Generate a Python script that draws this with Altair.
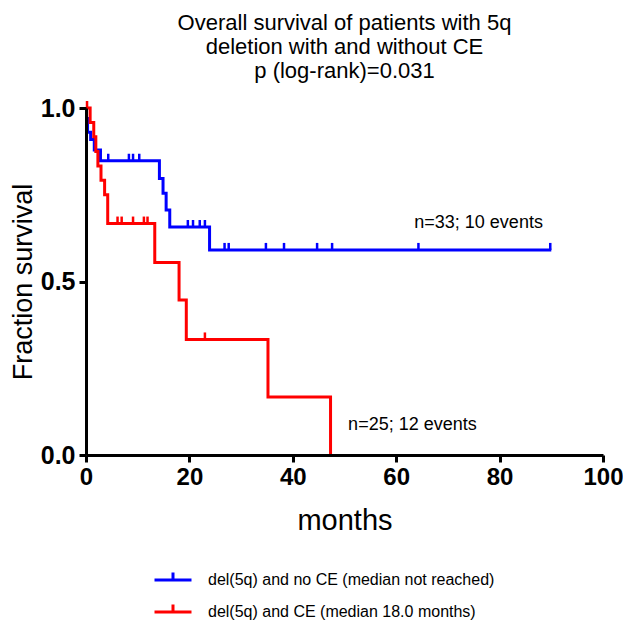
import altair as alt
import pandas as pd

# ---- data ----
blue_label = "del(5q) and no CE (median not reached)"
red_label = "del(5q) and CE (median 18.0 months)"

blue_t = [0, 0.1, 0.3, 0.9, 1.6, 2.8, 14.2, 14.9, 15.5, 16.2, 23.9, 90.0]
blue_s = [1.0, 0.970, 0.930, 0.909, 0.879, 0.848, 0.797, 0.754, 0.706, 0.657, 0.591, 0.591]

red_t = [0, 0.8, 1.5, 1.9, 2.3, 2.9, 3.6, 4.2, 13.3, 18.0, 19.4, 35.2, 47.3]
red_s = [1.0, 0.958, 0.917, 0.875, 0.833, 0.792, 0.750, 0.667, 0.555, 0.447, 0.333, 0.167, 0.0]

blue_cens_t = [4.3, 8.3, 9.1, 10.3, 19.7, 20.7, 22.0, 23.0, 26.8, 27.6, 34.8, 38.3, 44.7, 47.6, 64.3, 89.8]
blue_cens_s = [0.848, 0.848, 0.848, 0.848, 0.657, 0.657, 0.657, 0.657,
               0.591, 0.591, 0.591, 0.591, 0.591, 0.591, 0.591, 0.591]

red_cens_t = [0.2, 6.1, 6.9, 9.1, 11.2, 11.9, 23.0]
red_cens_s = [1.0, 0.667, 0.667, 0.667, 0.667, 0.667, 0.333]

note_text = ["n=33; 10 events", "n=25; 12 events"]
note_t = [63.5, 50.7]
note_s = [0.668, 0.086]

x_ticks = [0, 20, 40, 60, 80, 100]
y_ticks = [0.0, 0.5, 1.0]

title_lines = ["Overall survival of patients with 5q",
               "deletion with and without CE",
               "p (log-rank)=0.031"]

# ---- tables ----
lines_df = pd.concat([
    pd.DataFrame({"series": blue_label, "t": blue_t, "s": blue_s}),
    pd.DataFrame({"series": red_label, "t": red_t, "s": red_s}),
])
cens_df = pd.concat([
    pd.DataFrame({"series": blue_label, "t": blue_cens_t, "s": blue_cens_s}),
    pd.DataFrame({"series": red_label, "t": red_cens_t, "s": red_cens_s}),
])
notes_df = pd.DataFrame({"t": note_t, "s": note_s, "label": note_text})

FONT = "Liberation Sans"

color_scale = alt.Scale(domain=[blue_label, red_label], range=["#0000ff", "#ff0000"])
x_scale = alt.Scale(domain=[0, 100], nice=False, zero=True)
y_scale = alt.Scale(domain=[0, 1], nice=False)

x_axis = alt.Axis(values=x_ticks, title="months", grid=False, zindex=1,
                  domainColor="black", domainWidth=3, tickColor="black", tickWidth=3,
                  tickSize=7, labelFont=FONT, labelFontSize=24, labelFontWeight="bold",
                  labelColor="black", labelPadding=3, labelFlush=False,
                  titleFont=FONT, titleFontSize=29, titleFontWeight="normal",
                  titleColor="black", titlePadding=17)
y_axis = alt.Axis(values=y_ticks, format=".1f", title="Fraction survival", grid=False, zindex=1,
                  domainColor="black", domainWidth=3, tickColor="black", tickWidth=3,
                  tickSize=7, labelFont=FONT, labelFontSize=25, labelFontWeight="bold",
                  labelColor="black", labelPadding=4, labelFlush=False,
                  titleFont=FONT, titleFontSize=27, titleFontWeight="normal",
                  titleColor="black", titlePadding=3)

lines = alt.Chart(lines_df).mark_line(interpolate="step-after", strokeWidth=3).encode(
    x=alt.X("t:Q", scale=x_scale, axis=x_axis),
    y=alt.Y("s:Q", scale=y_scale, axis=y_axis),
    color=alt.Color("series:N", scale=color_scale, sort=[blue_label, red_label],
                    legend=alt.Legend(orient="none", legendX=76, legendY=461, title=None,
                                      direction="vertical",
                                      symbolType="M-2,0H2M0,0V-0.8", symbolSize=342,
                                      symbolStrokeWidth=3, symbolFillColor="transparent",
                                      labelFont=FONT, labelFontSize=16, labelColor="black",
                                      labelOffset=24, rowPadding=10, labelLimit=400)),
    order="t:Q",
)

cens = alt.Chart(cens_df).mark_point(shape="M0,0V-1", size=196, strokeWidth=2.5,
                                     filled=False, opacity=1).encode(
    x=alt.X("t:Q", scale=x_scale),
    y=alt.Y("s:Q", scale=y_scale),
    color=alt.Color("series:N", scale=color_scale, legend=None),
)

notes = alt.Chart(notes_df).mark_text(align="left", baseline="middle", font=FONT,
                                      fontSize=18, color="black").encode(
    x=alt.X("t:Q", scale=x_scale),
    y=alt.Y("s:Q", scale=y_scale),
    text="label:N",
)

chart = alt.layer(lines, cens, notes).properties(
    width=517, height=347,
    autosize=alt.AutoSizeParams(type="none"),
    padding={"left": 78, "top": 100, "right": 20, "bottom": 169},
    title=alt.TitleParams(text=title_lines, font=FONT, fontSize=22, fontWeight="normal",
                          color="black", anchor="middle", lineHeight=24, offset=13),
).configure_view(stroke=None)

chart.save("out.html", embed_options={"renderer": "svg", "actions": False})
